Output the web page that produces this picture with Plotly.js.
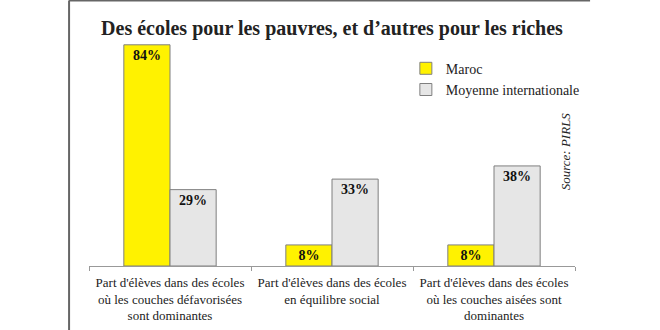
<!DOCTYPE html>
<html>
<head>
<meta charset="utf-8">
<script src="https://cdn.plot.ly/plotly-3.0.1.min.js"></script>
<style>
html,body{margin:0;padding:0;background:#fff;}
#chart{width:660px;height:330px;}
</style>
</head>
<body>
<div id="chart"></div>
<script>
const categories = [
  "Part d'élèves dans des écoles<br>où les couches défavorisées<br>sont dominantes",
  "Part d'élèves dans des écoles<br>en équilibre social",
  "Part d'élèves dans des écoles<br>où les couches aisées sont<br>dominantes"
];
const maroc = [84, 8, 8];
const moyenne = [29, 33, 38];
const seriesNames = ["Maroc", "Moyenne internationale"];

const serif = "Liberation Serif, Times New Roman, serif";

const traces = [
  {
    type: 'bar', name: seriesNames[0], x: categories, y: maroc,
    marker: {color: '#fff200', line: {color: '#7f7f7f', width: 1}},
    texttemplate: '%{y}%', textposition: 'inside', insidetextanchor: 'end',
    constraintext: 'none',
    textfont: {family: serif, size: 14, color: '#111', weight: 'bold'},
    hoverinfo: 'none'
  },
  {
    type: 'bar', name: seriesNames[1], x: categories, y: moyenne,
    marker: {color: '#e6e6e6', line: {color: '#7f7f7f', width: 1}},
    texttemplate: '%{y}%', textposition: 'inside', insidetextanchor: 'end',
    constraintext: 'none',
    textfont: {family: serif, size: 14, color: '#111', weight: 'bold'},
    hoverinfo: 'none'
  }
];

const layout = {
  width: 660, height: 330,
  margin: {l: 89, r: 85, t: 29, b: 64},
  paper_bgcolor: '#fff', plot_bgcolor: '#fff',
  barmode: 'group', bargap: 0.43, bargroupgap: 0,
  title: {
    text: "<b>Des écoles pour les pauvres, et d’autres pour les riches</b>",
    font: {family: serif, size: 20, color: '#222'},
    x: 0.5, xref: 'paper', y: 0.915, yanchor: 'middle'
  },
  xaxis: {
    showline: true, linecolor: '#999', linewidth: 1,
    ticks: 'outside', tickson: 'boundaries', ticklen: 4, tickcolor: '#999',
    tickangle: 0, ticklabelstandoff: 4,
    tickfont: {family: serif, size: 13, color: '#222'},
    showgrid: false, zeroline: false, fixedrange: true
  },
  yaxis: {
    range: [0, 90], visible: false, showgrid: false, zeroline: false, fixedrange: true
  },
  showlegend: true,
  legend: {
    x: 0.652, xanchor: 'left', y: 0.9, yanchor: 'top',
    font: {family: serif, size: 14, color: '#222'},
    bgcolor: 'rgba(0,0,0,0)', tracegroupgap: 0, itemwidth: 30
  },
  annotations: [
    {
      text: '<i>Source: PIRLS</i>', xref: 'paper', yref: 'paper',
      x: 1.0, y: 0.482, textangle: -90, showarrow: false,
      font: {family: serif, size: 13, color: '#222'}
    }
  ],
  shapes: [
    {type: 'line', xref: 'paper', yref: 'paper', x0: -0.041, x1: -0.041, y0: -0.3, y1: 1.12,
     line: {color: '#666', width: 2}},
    {type: 'line', xref: 'paper', yref: 'paper', x0: -0.041, x1: 1.031, y0: 1.12, y1: 1.12,
     line: {color: '#666', width: 2}}
  ]
};

Plotly.newPlot('chart', traces, layout, {displayModeBar: false, staticPlot: true});
</script>
</body>
</html>
